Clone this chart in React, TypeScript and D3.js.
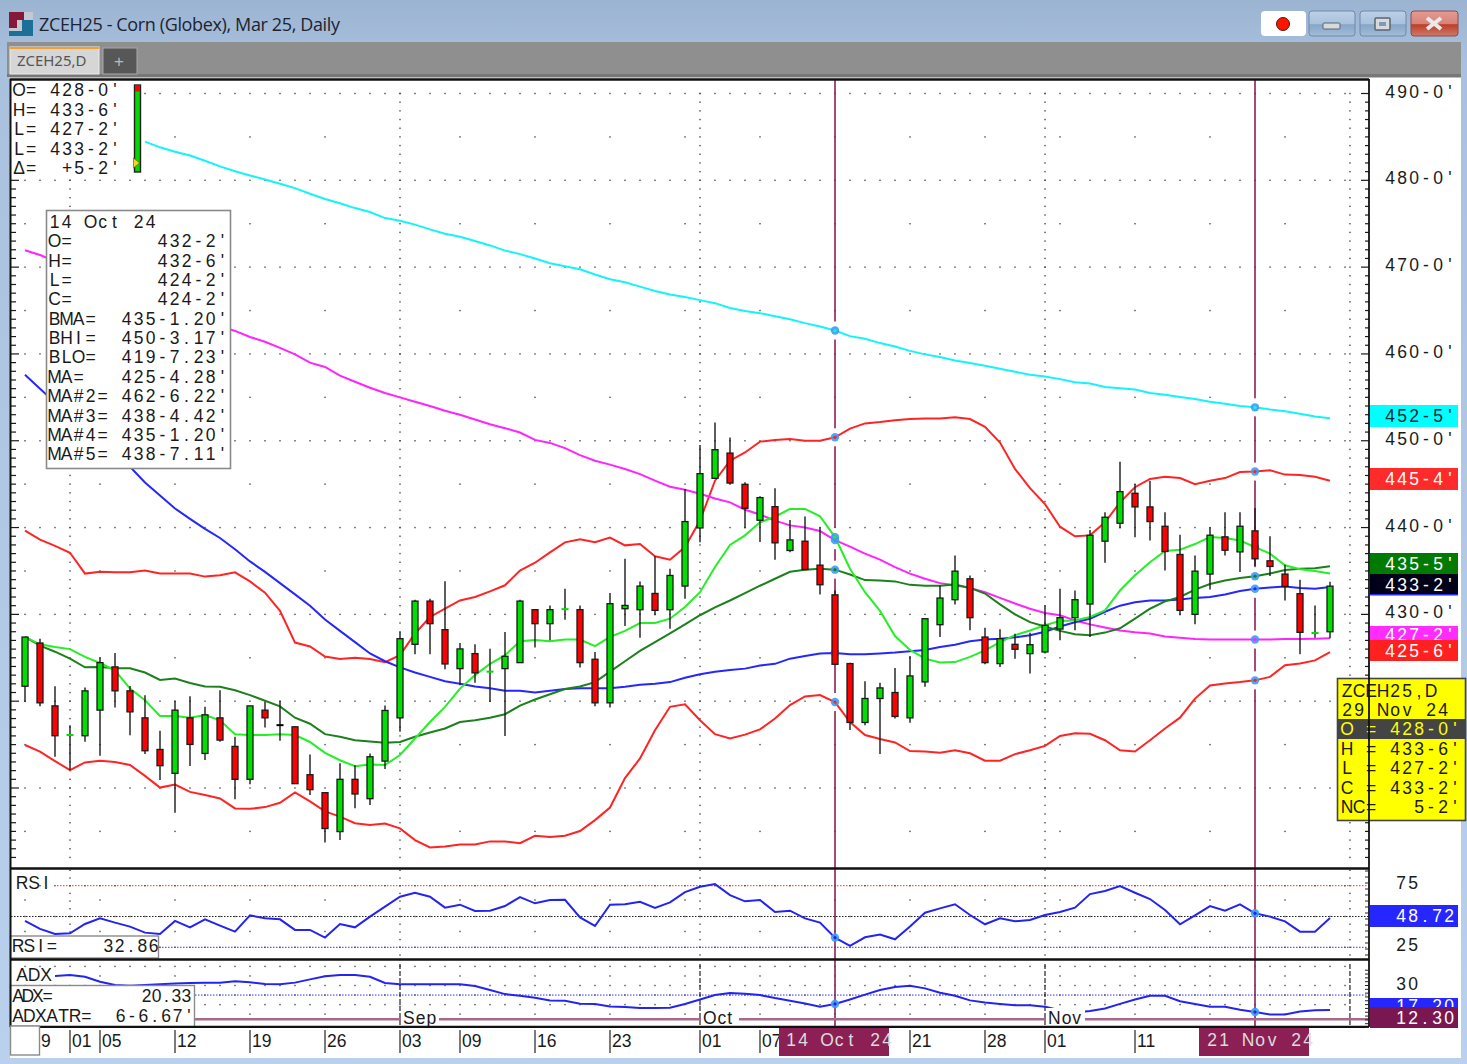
import React from "react";
import * as d3 from "d3";

const W = 1467;
const H = 1064;

// open, high, low, close per daily bar, 29 Jul 24 to 29 Nov 24
const candles: number[][] = [
  [421.72, 427.39, 419.92, 427.39], [426.7, 427.2, 419.43, 419.81], [419.46, 421.72, 413.6, 416.02], [416.05, 417.24, 412.07, 416.1],
  [416.02, 421.57, 415.33, 421.19], [418.97, 425.02, 413.72, 424.44], [423.95, 425.56, 419.27, 421.19], [421.19, 421.76, 416.09, 418.77],
  [418.08, 420.69, 413.91, 414.29], [414.44, 416.59, 410.92, 412.57], [411.69, 420.04, 407.16, 418.97], [418.08, 420.57, 412.53, 415.02],
  [413.98, 419.35, 413.22, 418.43], [418.08, 421.26, 415.33, 415.52], [414.79, 415.9, 408.7, 411.0], [411.0, 419.46, 410.42, 419.46],
  [418.97, 419.92, 416.97, 418.08], [417.24, 420.04, 415.44, 417.24], [417.05, 417.05, 410.5, 410.5], [411.53, 413.87, 409.2, 409.81],
  [409.46, 409.46, 403.72, 405.33], [404.98, 412.84, 404.02, 411.0], [411.0, 412.61, 407.66, 409.31], [408.77, 413.98, 408.05, 413.6],
  [413.1, 419.5, 412.18, 418.93], [418.08, 427.97, 416.48, 427.2], [426.55, 431.69, 425.4, 431.53], [431.53, 431.8, 425.4, 428.93],
  [428.24, 433.83, 423.68, 424.29], [423.75, 426.7, 421.84, 426.02], [425.48, 426.55, 422.11, 423.26], [423.35, 426.05, 419.92, 423.4],
  [423.75, 427.97, 415.98, 425.17], [424.44, 431.69, 424.44, 431.53], [430.54, 430.54, 426.17, 428.93], [428.93, 431.03, 427.01, 430.54],
  [430.55, 432.95, 429.39, 430.6], [430.54, 431.03, 423.87, 424.44], [424.83, 425.67, 419.43, 419.81], [419.81, 432.45, 419.27, 431.23],
  [430.65, 436.4, 428.66, 431.03], [430.54, 433.79, 427.32, 433.26], [432.41, 436.7, 429.89, 430.46], [430.54, 435.25, 428.35, 434.48],
  [433.26, 444.44, 431.8, 440.69], [439.96, 449.5, 438.31, 446.21], [445.67, 452.11, 445.67, 448.97], [448.58, 450.38, 444.94, 445.13],
  [444.98, 445.21, 439.92, 442.22], [440.84, 443.6, 438.35, 443.45], [442.41, 444.52, 436.28, 438.24], [437.36, 440.88, 437.16, 438.58],
  [438.43, 441.26, 435.13, 435.17], [435.67, 440.04, 432.3, 433.41], [432.25, 432.75, 424.25, 424.25], [424.33, 424.44, 416.67, 417.55],
  [417.55, 422.3, 417.24, 420.31], [420.31, 422.11, 413.91, 421.53], [421.0, 423.83, 418.01, 418.24], [418.08, 425.21, 417.51, 422.91],
  [422.22, 429.5, 421.65, 429.5], [428.81, 433.33, 427.39, 431.88], [431.69, 436.78, 431.15, 434.98], [434.1, 434.48, 428.16, 429.62],
  [427.39, 428.47, 424.25, 424.44], [424.33, 428.28, 423.95, 427.2], [426.55, 427.78, 424.9, 425.98], [425.48, 427.89, 423.18, 426.51],
  [425.67, 431.03, 425.48, 428.74], [428.31, 432.95, 427.01, 429.62], [429.62, 432.76, 428.16, 431.69], [431.19, 439.73, 427.39, 439.12],
  [438.43, 441.76, 435.94, 441.19], [440.5, 447.59, 439.92, 444.14], [443.95, 445.02, 438.89, 442.38], [442.38, 445.4, 438.51, 440.69],
  [440.15, 441.76, 435.06, 437.24], [436.9, 439.16, 429.89, 430.46], [430.0, 436.78, 428.85, 434.98], [434.64, 440.04, 432.87, 439.12],
  [438.93, 441.76, 436.78, 437.39], [437.2, 441.76, 434.87, 440.15], [439.62, 442.26, 435.56, 436.4], [436.17, 439.0, 434.41, 435.52],
  [434.64, 435.71, 431.61, 433.22], [432.38, 433.98, 425.4, 427.93], [427.8, 431.03, 427.32, 427.85], [428.0, 433.75, 427.25, 433.25],
];

const bandUpper = [
  439.65, 438.6, 437.9, 437.1, 434.7, 434.9, 434.85, 434.85, 435.05, 434.7, 434.7, 434.7, 434.35, 434.5, 434.85, 433.8, 432.5, 430.4, 426.75, 426.3, 425.15, 424.85,
  425.0, 424.85, 424.5, 425.3, 427.8, 429.7, 430.65, 431.6, 432.0, 432.65, 433.35, 435.05, 435.95, 437.15, 438.3, 438.65, 438.3, 438.85, 437.95, 438.1, 436.7, 436.3,
  437.75, 440.8, 445.4, 447.7, 448.65, 449.9, 450.1, 450.2, 450.0, 450.0, 450.4, 451.4, 452.0, 452.15, 452.35, 452.5, 452.55, 452.55, 452.7, 452.5, 451.6, 449.8,
  446.75, 444.55, 442.7, 440.1, 439.0, 439.1, 440.6, 442.9, 444.65, 445.6, 445.85, 445.7, 445.0, 445.4, 445.7, 446.4, 446.45, 446.6, 446.1, 446.05, 445.85, 445.4,
];
const bandLower = [
  414.95, 414.2, 413.1, 412.05, 412.95, 413.15, 413.0, 412.65, 411.4, 410.05, 410.4, 409.55, 409.2, 408.8, 407.65, 407.6, 407.8, 408.3, 409.5, 408.45, 407.3, 406.7,
  405.95, 405.75, 405.9, 405.35, 404.0, 403.15, 403.25, 403.5, 403.5, 403.85, 403.85, 403.65, 404.5, 404.35, 404.5, 405.05, 406.3, 407.75, 411.15, 413.4, 416.65, 419.35,
  419.65, 417.8, 416.2, 415.7, 416.15, 416.75, 418.0, 419.55, 420.55, 420.7, 419.9, 417.6, 416.1, 415.65, 415.25, 414.25, 414.2, 414.05, 414.35, 414.0, 413.15, 413.15,
  413.9, 414.35, 414.85, 416.0, 416.3, 416.25, 415.5, 414.35, 414.2, 415.5, 416.85, 418.1, 420.3, 421.8, 422.05, 422.2, 422.4, 422.8, 424.15, 424.35, 424.7, 425.65,
];
// 20 day average, its upper part sits behind the study box
const maBlue = [
  457.6, 456.0, 454.4, 452.8, 451.5, 450.1, 448.6, 447.0, 445.2, 443.7, 442.2, 441.0, 439.85, 438.8, 437.5, 436.1, 434.9, 433.6, 432.3, 431.0, 429.4, 428.1,
  426.8, 425.5, 424.6, 423.9, 423.3, 422.8, 422.3, 422.0, 421.7, 421.5, 421.2, 421.2, 421.0, 421.2, 421.4, 421.5, 421.5, 421.5, 421.65, 421.9, 422.0, 422.2,
  422.7, 423.1, 423.4, 423.6, 423.75, 424.1, 424.3, 424.9, 425.2, 425.5, 425.55, 425.4, 425.4, 425.5, 425.6, 425.75, 425.9, 426.25, 426.5, 426.9, 427.1, 427.2,
  427.35, 427.6, 428.0, 428.6, 429.1, 429.5, 430.3, 431.0, 431.4, 431.6, 431.6, 431.7, 431.9, 432.0, 432.3, 432.7, 432.95, 433.1, 433.2, 433.05, 432.95, 433.15,
];
const maMagenta = [
  471.95, 471.4, 470.7, 469.9, 469.2, 468.5, 467.8, 467.1, 466.4, 465.75, 465.05, 464.5, 463.9, 463.2, 462.65, 461.95, 461.4, 460.7, 459.95, 459.0, 458.5, 457.5,
  456.8, 456.1, 455.5, 455.0, 454.5, 454.0, 453.45, 453.0, 452.45, 451.9, 451.45, 450.95, 450.1, 449.75, 449.15, 448.35, 447.7, 447.25, 446.75, 446.15, 445.4, 444.7,
  444.35, 443.9, 443.35, 442.9, 442.05, 441.5, 440.8, 440.25, 440.0, 439.6, 438.55, 437.8, 437.0, 436.3, 435.45, 434.7, 434.1, 433.6, 433.35, 433.05, 432.55, 431.9,
  431.25, 430.65, 430.15, 429.9, 429.3, 428.85, 428.5, 428.15, 427.95, 427.8, 427.45, 427.3, 427.15, 427.1, 427.1, 427.1, 427.1, 427.1, 427.15, 427.15, 427.2, 427.25,
];
const maDarkGreen = [
  427.4, 426.4, 425.7, 424.9, 423.9, 423.95, 423.8, 423.8, 423.3, 422.45, 422.6, 422.1, 421.7, 421.65, 421.25, 420.7, 420.05, 419.4, 418.1, 417.4, 416.2, 415.9,
  415.5, 415.35, 415.2, 415.3, 415.9, 416.4, 416.85, 417.6, 417.8, 418.1, 418.5, 419.5, 420.2, 420.8, 421.4, 421.7, 422.2, 423.4, 424.6, 425.8, 426.8, 427.8,
  428.85, 429.9, 430.8, 431.6, 432.45, 433.3, 434.1, 434.9, 435.15, 435.25, 435.15, 434.6, 433.95, 433.9, 433.8, 433.4, 433.3, 433.3, 433.45, 433.05, 432.4, 431.15,
  430.0, 429.1, 428.6, 428.1, 427.7, 427.6, 427.9, 428.4, 429.5, 430.65, 431.5, 432.0, 432.85, 433.5, 433.9, 434.2, 434.4, 434.7, 435.1, 435.25, 435.3, 435.55,
];
const maLightGreen = [
  427.4, 426.55, 426.25, 426.0, 425.1, 424.4, 423.55, 421.45, 420.1, 418.3, 418.3, 418.1, 418.4, 417.8, 416.2, 416.1, 416.1, 416.2, 416.1, 415.3, 414.05, 413.2,
  412.5, 412.7, 412.65, 413.8, 415.7, 417.6, 419.35, 421.45, 423.0, 424.3, 425.3, 426.9, 427.05, 426.9, 427.1, 427.1, 426.35, 427.4, 428.1, 429.0, 429.0, 429.5,
  430.85, 432.55, 435.45, 438.0, 439.1, 440.6, 441.25, 442.15, 442.15, 441.3, 438.9, 435.25, 432.55, 430.4, 427.5, 425.9, 424.9, 424.45, 424.5, 425.1, 425.85, 426.8,
  427.6, 428.15, 428.75, 429.25, 429.3, 429.7, 430.45, 432.75, 434.5, 436.0, 437.3, 437.45, 438.1, 438.9, 438.8, 438.5, 437.75, 437.0, 435.65, 435.2, 435.0, 434.7,
];
// long average, first value is bar 8 (it comes out from under the readout)
const cyanStart = 8;
const maCyan = [
  484.45, 483.8, 483.3, 482.85, 482.25, 481.6, 481.05, 480.55, 480.1, 479.6, 479.1, 478.45, 477.85, 477.35, 476.8, 476.35, 475.65, 475.35, 474.9, 474.35, 473.85, 473.5,
  473.0, 472.5, 471.9, 471.5, 471.0, 470.45, 470.1, 469.75, 469.15, 468.6, 468.25, 467.75, 467.25, 466.85, 466.55, 466.2, 465.85, 465.3, 464.95, 464.7, 464.35, 464.0,
  463.55, 463.15, 462.7, 462.05, 461.75, 461.25, 460.85, 460.35, 459.95, 459.65, 459.25, 458.95, 458.65, 458.3, 457.95, 457.6, 457.4, 457.1, 456.75, 456.6, 456.2, 456.05,
  455.9, 455.5, 455.3, 455.05, 454.8, 454.5, 454.25, 454.0, 453.85, 453.6, 453.4, 453.1, 452.8, 452.6,
];

const rsiValues = [
  46.4, 39.9, 35.8, 36.4, 43.9, 48.5, 45.0, 41.8, 36.9, 35.8, 46.4, 41.2, 47.7, 42.6, 37.7, 50.9, 48.5, 47.7, 39.1, 39.1, 32.9, 43.9, 41.2, 49.9, 58.0, 66.1, 69.3, 66.1,
  57.2, 59.6, 54.5, 54.7, 58.5, 65.8, 60.7, 63.4, 63.6, 49.3, 42.3, 59.6, 59.9, 62.0, 56.9, 61.5, 69.8, 74.2, 76.3, 67.4, 62.3, 63.4, 53.6, 54.7, 48.5, 45.0, 32.86, 26.1,
  33.1, 35.3, 31.5, 41.8, 53.1, 56.6, 59.9, 51.2, 43.7, 48.5, 46.1, 47.2, 51.2, 53.6, 57.2, 68.2, 70.7, 74.7, 69.3, 64.2, 55.3, 43.7, 50.9, 58.5, 54.7, 59.9, 52.6, 49.9,
  46.1, 37.7, 37.7, 48.72,
];
// first value is bar 2
const adxStart = 2;
const adxValues = [
  35.0, 35.5, 34.6, 32.0, 30.3, 29.9, 30.2, 30.6, 31.0, 31.3, 31.5, 31.5, 32.2, 31.7, 30.8, 30.6, 31.5, 33.2, 34.8, 35.5, 35.5, 34.6, 31.3, 30.6, 30.6, 30.6, 30.6, 30.6,
  29.7, 27.6, 25.5, 24.6, 23.6, 22.2, 22.0, 20.4, 20.3, 19.0, 18.7, 18.2, 18.2, 18.3, 20.3, 22.7, 25.0, 26.1, 25.7, 25.0, 23.4, 22.0, 20.6, 18.9, 20.33, 22.7, 25.2, 27.6,
  29.2, 29.9, 28.5, 26.2, 24.6, 22.2, 21.1, 20.3, 19.6, 19.6, 18.9, 17.1, 15.9, 16.6, 18.0, 20.4, 22.7, 24.6, 24.6, 21.8, 20.3, 18.9, 18.9, 17.3, 16.1, 14.8, 14.8, 16.4,
  17.1, 17.2,
];
const adxAtrLevel = 12.3;

const priceTicks = [490, 480, 470, 460, 450, 440, 430, 420, 410];
const priceHalfTicks = [485, 475, 465, 455, 445, 435, 425, 415, 405];
const monthBars = [3, 25, 45, 68, 88.33];
const weekBars = [0, 5, 10, 15, 20, 29, 34, 39, 44, 49, 54, 59, 64, 69, 74, 79, 84];
const dateTicks: [number, string][] = [
  [0, "9"], [3, "01"], [5, "05"], [10, "12"], [15, "19"], [20, "26"], [25, "03"], [29, "09"], [34, "16"], [39, "23"], [45, "01"],
  [49, "07"], [54, ""], [59, "21"], [64, "28"], [68, "01"], [74, "11"],
];
const monthLabels: [number, string][] = [[25, "Sep"], [45, "Oct"], [68, "Nov"]];
const cursorBars = [54, 82];

const readoutRows = ["O= 428-0'", "H= 433-6'", "L= 427-2'", "L= 433-2'", "\u0394=  +5-2'"];
const boxRows = [
  "14 Oct 24", "O=       432-2'", "H=       432-6'", "L=       424-2'", "C=       424-2'", "BMA=  435-1.20'", "BHI=  450-3.17'", "BLO=  419-7.23'",
  "MA=   425-4.28'", "MA#2= 462-6.22'", "MA#3= 438-4.42'", "MA#4= 435-1.20'", "MA#5= 438-7.11'",
];
const yellowRows = ["ZCEH25,D", "29 Nov 24", "O = 428-0'", "H = 433-6'", "L = 427-2'", "C = 433-2'", "NC=   5-2'"];
const priceTags: [string, number, number, string, string][] = [
  ["452-5'", 405, 22, "#00ffff", "#062b33"],
  ["445-4'", 468, 22, "#ff2a2a", "#ffffff"],
  ["435-5'", 553, 21, "#007a00", "#ffffff"],
  ["433-2'", 574, 21, "#000018", "#ffffff"],
  ["427-2'", 626, 18, "#ff2cff", "#ffffff"],
  ["425-6'", 640, 21, "#ff2020", "#ffffff"],
];

const x = d3.scaleLinear().domain([0, 87]).range([25, 1330]);
const y = d3.scaleLinear().domain([410, 490]).range([788, 93.5]);
const yRsi = d3.scaleLinear().domain([25, 75]).range([947.3, 885.7]);
const yAdx = d3.scaleLinear().domain([12.3, 30]).range([1019.3, 985.5]);

const mainLine = d3.line<number>().x((_, i) => x(i)).y((v) => y(v));
const cyanLine = d3.line<number>().x((_, i) => x(i + cyanStart)).y((v) => y(v));
const rsiLine = d3.line<number>().x((_, i) => x(i)).y((v) => yRsi(v));
const adxLine = d3.line<number>().x((_, i) => x(i + adxStart)).y((v) => yAdx(v));

const SANS = "'Liberation Sans', Arial, sans-serif";
const DOT = "#4a4a4a";

// the original font sits in fixed cells, so each glyph gets its own x
function Cells({ cx, y, text, fill = "#1a1a1a", size = 17.5, pitch = 12 }: any) {
  const xs = Array.from(text as string).map((_, i) => (cx + i * pitch).toFixed(1));
  return (
    <text x={xs.join(" ")} y={y} fill={fill} fontSize={size} fontFamily={SANS} textAnchor="middle" style={{ whiteSpace: "pre" }}>
      {text}
    </text>
  );
}

function Dots({ xs, ys, fill = DOT }: { xs: number[]; ys: number[]; fill?: string }) {
  return (
    <g fill={fill}>
      {ys.map((py) => xs.map((px) => <rect key={px + "_" + py} x={px - 0.7} y={py - 0.7} width={1.4} height={1.4} />))}
    </g>
  );
}

function Marker({ cx, cy, fill }: { cx: number; cy: number; fill: string }) {
  return (
    <g>
      <circle cx={cx} cy={cy} r={4.2} fill="#3d9cf5" opacity={0.9} />
      <circle cx={cx} cy={cy} r={1.6} fill={fill} />
    </g>
  );
}

export default function App() {
  const allBars = d3.range(0, 89).map((i) => x(i));
  const weekX = weekBars.map((i) => x(i));
  const monthX = monthBars.map((i) => x(i));
  const series: [number[], string][] = [
    [bandUpper, "#ff2424"],
    [bandLower, "#ff2424"],
    [maMagenta, "#ff24ff"],
    [maBlue, "#2626ff"],
    [maDarkGreen, "#1c801c"],
    [maLightGreen, "#24f024"],
  ];
  const cursorValues = (bar: number) => [...series.map((s) => s[0][bar]), maCyan[bar - cyanStart]];
  const priceInts = d3.range(400, 491);
  const rsiVertical = d3.range(0, 12).map((k) => yRsi(87.5 - k * 6.25));
  const adxMinor = d3.range(6, 40, 2);

  return (
    <svg width={W} height={H} viewBox={`0 0 ${W} ${H}`} style={{ position: "absolute", left: 0, top: 0 }}>
      <defs>
        <linearGradient id="frame" x1="0" y1="0" x2="0" y2="1">
          <stop offset="0" stopColor="#9bb4d2" />
          <stop offset="0.06" stopColor="#a9c1dd" />
          <stop offset="1" stopColor="#b9d1ec" />
        </linearGradient>
        <linearGradient id="btn" x1="0" y1="0" x2="0" y2="1">
          <stop offset="0" stopColor="#bdd0e6" />
          <stop offset="0.5" stopColor="#a9c2de" />
          <stop offset="0.55" stopColor="#87a6c8" />
          <stop offset="1" stopColor="#a3bcd8" />
        </linearGradient>
        <linearGradient id="btnRed" x1="0" y1="0" x2="0" y2="1">
          <stop offset="0" stopColor="#e69a92" />
          <stop offset="0.5" stopColor="#d88378" />
          <stop offset="0.55" stopColor="#bc3f28" />
          <stop offset="1" stopColor="#cf7a6c" />
        </linearGradient>
      </defs>

      {/* window */}
      <rect width={W} height={H} fill="url(#frame)" />
      <rect x={9} y={12} width={24} height={24} fill="#c2c9d2" />
      <path d="M9 12h15v8h-7v8H9z" fill="#86183a" />
      <path d="M33 20v16H9v-5h13v-11z" fill="#1c6f97" />
      <text x={39} y={31} fontSize={18} fontFamily="'Open Sans', sans-serif" fill="#1c2430" textLength={301}>
        ZCEH25 - Corn (Globex), Mar 25, Daily
      </text>
      <rect x={1261} y={11} width={45} height={25} rx={4} fill="#ffffff" />
      <circle cx={1283} cy={24} r={6.5} fill="#ff1400" stroke="#5a1208" strokeWidth={1} />
      <rect x={1309} y={11} width={46} height={25} rx={3} fill="url(#btn)" stroke="#7088a8" />
      <rect x={1323} y={23} width={17} height={6} rx={1} fill="#d6d9de" stroke="#5b6470" />
      <rect x={1360} y={11} width={46} height={25} rx={3} fill="url(#btn)" stroke="#7088a8" />
      <rect x={1375} y={18} width={15} height={12} rx={1} fill="#d6d9de" stroke="#5b6470" strokeWidth={1.5} />
      <rect x={1379} y={22} width={7} height={4} fill="#7f98b6" />
      <rect x={1411} y={11} width={47} height={25} rx={3} fill="url(#btnRed)" stroke="#8c4a50" />
      <path d="M1427 18l14 11M1441 18l-14 11" stroke="#e9e9e9" strokeWidth={4} />

      {/* tab strip */}
      <rect x={7} y={42} width={1454} height={34} fill="#8f8f8f" />
      <rect x={7} y={74} width={1454} height={3} fill="#777" />
      <rect x={10} y={47} width={89} height={27} fill="#d6d6d6" stroke="#eee" />
      <rect x={10} y={47} width={89} height={2} fill="#f0a030" />
      <text x={17} y={66} fontSize={15} fontFamily="'Noto Sans', sans-serif" fill="#555">ZCEH25,D</text>
      <rect x={103} y={48} width={34} height={26} fill="#575757" stroke="#aaa" />
      <text x={119} y={67} fontSize={17} textAnchor="middle" fontFamily={SANS} fill="#bbb">+</text>

      {/* chart surface */}
      <rect x={10} y={78} width={1451} height={980} fill="#fff" />

      {/* main panel grid */}
      <Dots xs={allBars} ys={priceTicks.map((p) => y(p))} />
      <Dots xs={weekX} ys={priceHalfTicks.map((p) => y(p))} />
      <Dots xs={monthX} ys={priceInts.filter((p) => y(p) < 866).map((p) => y(p))} />

      {/* cursor lines, opened up around each marker */}
      {cursorBars.map((bar) => (
        <g key={bar}>
          <line x1={x(bar)} x2={x(bar)} y1={80} y2={1027} stroke="#8c1f58" strokeWidth={1.6} />
          {cursorValues(bar).map((v, k) => (
            <rect key={k} x={x(bar) - 2} y={y(v) - 9} width={4} height={18} fill="#fff" />
          ))}
        </g>
      ))}

      {/* studies */}
      <path d={cyanLine(maCyan) || ""} fill="none" stroke="#14f4f8" strokeWidth={2} />
      {series.map(([vals, color], k) => (
        <path key={k} d={mainLine(vals) || ""} fill="none" stroke={color} strokeWidth={2} />
      ))}
      {cursorBars.map((bar) => (
        <g key={bar}>
          <Marker cx={x(bar)} cy={y(maCyan[bar - cyanStart])} fill="#14f4f8" />
          {series.map(([vals, color], k) => (
            <Marker key={k} cx={x(bar)} cy={y(vals[bar])} fill={color} />
          ))}
        </g>
      ))}

      {/* candles */}
      {candles.map(([o, h, l, c], i) => {
        const flat = Math.abs(c - o) < 0.2;
        const color = c > o ? "#00e000" : c < o ? "#ff0000" : "#000";
        return (
          <g key={i}>
            <line x1={x(i)} x2={x(i)} y1={y(h)} y2={y(l)} stroke="#1a1a1a" strokeWidth={1.4} />
            {flat ? (
              <rect x={x(i) - 3.5} y={y(c) - 1} width={7} height={2} fill={color} />
            ) : (
              <rect x={x(i) - 3} y={y(Math.max(o, c))} width={6} height={y(Math.min(o, c)) - y(Math.max(o, c))} fill={color} stroke="#1a1a1a" strokeWidth={1.3} />
            )}
          </g>
        );
      })}

      {/* price ticks left and right */}
      {priceInts
        .filter((p) => y(p) < 866)
        .map((p) => {
          const major = p % 10 === 0;
          return (
            <g key={p} stroke="#1a1a1a" strokeWidth={1.2}>
              <line x1={11} x2={major ? 19 : 16} y1={y(p)} y2={y(p)} />
              <line x1={major ? 1361 : 1365} x2={1369} y1={y(p)} y2={y(p)} />
            </g>
          );
        })}

      {/* top left readout */}
      <rect x={11} y={82} width={131} height={95} fill="#fff" />
      {readoutRows.map((row, k) => (
        <Cells key={k} cx={19} y={96 + k * 19.5} text={row} />
      ))}
      <rect x={134.5} y={85} width={6} height={87} fill="#00d800" stroke="#222" strokeWidth={1.4} />
      <rect x={135} y={85.5} width={5} height={6} fill="#ff0000" />
      <path d="M133.5 158l6 5-6 5z" fill="#ffd21a" stroke="#6b5a00" strokeWidth={0.6} />

      {/* study values box */}
      <rect x={46.5} y={210.5} width={184} height={258} fill="#fff" stroke="#8a8a8a" strokeWidth={1.6} />
      {boxRows.map((row, k) => (
        <Cells key={k} cx={54.5} y={228 + k * 19.35} text={row} />
      ))}

      {/* right axis */}
      {priceTicks.slice(0, 7).map((p) => (
        <Cells key={p} cx={1390} y={y(p) + 4} text={`${p}-0'`} />
      ))}
      {priceTags.map(([label, top, h, bg, fg]) => (
        <g key={label}>
          <rect x={1370} y={top} width={88} height={h} fill={bg} />
          <Cells cx={1390} y={top + h / 2 + 6} text={label} fill={fg} />
        </g>
      ))}
      <rect x={1370} y={594} width={88} height={1.5} fill="#2626ff" />

      {/* yellow quote box */}
      <rect x={1337.5} y={678.5} width={128} height={142} fill="#ffff00" stroke="#444" strokeWidth={1.6} />
      <rect x={1338} y={719} width={127} height={20} fill="#444" />
      {yellowRows.map((row, k) => (
        <Cells key={k} cx={1347} y={[697, 716, 735, 755, 774, 794, 813][k]} text={row} fill={k === 2 ? "#ffff00" : "#1a1a1a"} />
      ))}

      {/* RSI panel */}
      <Dots xs={weekX} ys={[900, 931.5]} />
      <Dots xs={monthX} ys={rsiVertical} />
      <line x1={57} x2={1369} y1={yRsi(75)} y2={yRsi(75)} stroke="#ff3030" strokeDasharray="1.5 1.5" />
      <line x1={11} x2={1369} y1={yRsi(50)} y2={yRsi(50)} stroke="#222" strokeDasharray="1.5 1.5" />
      <line x1={159} x2={1369} y1={yRsi(25)} y2={yRsi(25)} stroke="#3030ff" strokeDasharray="1.5 1.5" />
      <Dots xs={allBars} ys={[yRsi(75), yRsi(50), yRsi(25)]} />
      <path d={rsiLine(rsiValues) || ""} fill="none" stroke="#2424f0" strokeWidth={2} />
      {cursorBars.map((bar) => (
        <Marker key={bar} cx={x(bar)} cy={yRsi(rsiValues[bar])} fill="#2424f0" />
      ))}
      <Cells cx={22} y={889} text="RSI" />
      <rect x={10.5} y={936} width={148} height={22} fill="#fff" stroke="#8a8a8a" strokeWidth={1.4} />
      <Cells cx={18} y={952} text="RSI=    32.86" pitch={11.3} />

      {/* ADX panel */}
      <Dots xs={allBars} ys={[yAdx(40), yAdx(30), yAdx(20)]} />
      <Dots xs={weekX} ys={[yAdx(35), yAdx(15)]} />
      <line x1={195} x2={1369} y1={yAdx(25)} y2={yAdx(25)} stroke="#3030ff" strokeDasharray="1.5 1.5" />
      <Dots xs={allBars} ys={[yAdx(25)]} />
      {monthX.slice(1).map((mx) => (
        <line key={mx} x1={mx} x2={mx} y1={964} y2={1027} stroke="#222" strokeWidth={1.2} strokeDasharray="5 2" />
      ))}
      <line x1={195} x2={1369} y1={yAdx(adxAtrLevel)} y2={yAdx(adxAtrLevel)} stroke="#a8688a" strokeWidth={2.4} />
      <path d={adxLine(adxValues) || ""} fill="none" stroke="#2424f0" strokeWidth={2} />
      {cursorBars.map((bar) => (
        <Marker key={bar} cx={x(bar)} cy={yAdx(adxValues[bar - adxStart])} fill="#2424f0" />
      ))}
      {monthLabels.map(([bar, label]) => (
        <g key={label}>
          <rect x={x(bar) + 1} y={1008} width={label === "Nov" ? 39 : 38} height={18} fill="#fff" />
          <text x={x(bar) + 3} y={1024} fontSize={17.5} fontFamily={SANS} fill="#1a1a1a" letterSpacing={1}>{label}</text>
        </g>
      ))}
      <Cells cx={22} y={981} text="ADX" />
      <rect x={10.5} y={985.5} width={184} height={42} fill="#fff" stroke="#8a8a8a" strokeWidth={1.4} />
      <Cells cx={18} y={1002} text="ADX=         20.33" pitch={9.9} />
      <Cells cx={18} y={1022} text="ADXATR=  6-6.67'" pitch={11.4} />

      {/* panel rules */}
      <g stroke="#111">
        <line x1={10} x2={1369} y1={79.5} y2={79.5} strokeWidth={2.4} />
        <line x1={10} x2={1369} y1={868.5} y2={868.5} strokeWidth={2.6} />
        <line x1={10} x2={1369} y1={959.5} y2={959.5} strokeWidth={2.6} />
        <line x1={10} x2={1369} y1={1027} y2={1027} strokeWidth={2.4} />
        <line x1={10.5} x2={10.5} y1={79} y2={1027} strokeWidth={2} />
        <line x1={1369} x2={1369} y1={79} y2={1027} strokeWidth={1.8} />
      </g>
      {d3.range(871, 958, 6).map((ty) => (
        <line key={ty} x1={1365} x2={1369} y1={ty} y2={ty} stroke="#222" />
      ))}
      {adxMinor.map((v) => (
        <line key={v} x1={1365} x2={1369} y1={yAdx(v)} y2={yAdx(v)} stroke="#222" />
      ))}

      {/* lower right values */}
      <Cells cx={1401} y={889} text="75" />
      <Cells cx={1401} y={951} text="25" />
      <rect x={1370} y={905} width={88} height={22} fill="#2626ff" />
      <Cells cx={1401} y={922} text="48.72" fill="#fff" />
      <Cells cx={1401} y={990} text="30" />
      <rect x={1370} y={998} width={88} height={12} fill="#2626ff" />
      <Cells cx={1401} y={1012} text="17.20" fill="#fff" />
      <rect x={1370} y={1007} width={88} height={21} fill="#7a1650" />
      <Cells cx={1401} y={1024} text="12.30" fill="#fff" />

      {/* date axis */}
      <rect x={10} y={1028} width={1359} height={28} fill="#fff" />
      {dateTicks.map(([bar, label]) => (
        <g key={bar}>
          <line x1={x(bar)} x2={x(bar)} y1={1030} y2={1053} stroke="#222" strokeWidth={1.2} />
          <text x={x(bar) + 2} y={1047} fontSize={17.5} fontFamily={SANS} fill="#1a1a1a">{label}</text>
        </g>
      ))}
      <rect x={10.5} y={1026} width={29} height={29} fill="#fff" stroke="#8a8a8a" strokeWidth={1.4} />
      <text x={41} y={1047} fontSize={17.5} fontFamily={SANS} fill="#1a1a1a">9</text>
      <rect x={779} y={1028} width={110} height={28} fill="#8c2055" />
      <Cells cx={791} y={1046} text="14 Oct 24" fill="#dcdcdc" />
      <rect x={1199} y={1028} width={110} height={28} fill="#8c2055" />
      <Cells cx={1212} y={1046} text="21 Nov 24" fill="#dcdcdc" />
    </svg>
  );
}
